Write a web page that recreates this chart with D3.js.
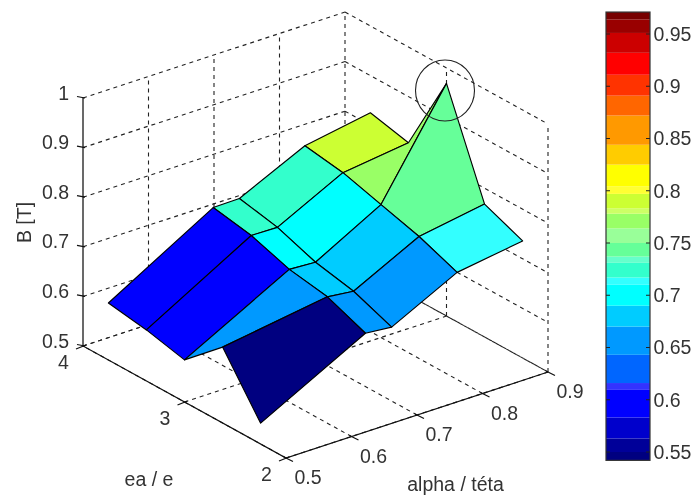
<!DOCTYPE html>
<html><head><meta charset="utf-8">
<script src="https://cdn.jsdelivr.net/npm/d3@7/dist/d3.min.js"></script>
<style>html,body{margin:0;padding:0;background:#fff}svg{display:block;filter:blur(.45px)}text{font-family:"Liberation Sans",Arial,sans-serif;fill:#333}</style>
</head><body><svg id="c" width="694" height="495"></svg>
<script>
// Data
const alphaValues=[0.5,0.66,0.7,0.8,0.9];
const eaValues=[3.75,3.375,3,2.625,2.25];
const rowEa375=[0.615,0.738,0.739,0.802,0.825];
const rowEa3375=[0.603,0.724,0.723,0.790,0.807];
const rowEa3=[0.585,0.698,0.695,0.768,0.969];
const rowEa2625=[0.653,0.685,0.679,0.746,0.768];
const rowEa225=[0.542,0.654,0.649,0.716,0.736];
const zRows=[rowEa375,rowEa3375,rowEa3,rowEa2625,rowEa225];
const alphaTicks=[0.5,0.6,0.7,0.8,0.9];
const eaTicks=[2,3,4];
const zTicks=[0.5,0.6,0.7,0.8,0.9,1];
const barTicks=[0.55,0.6,0.65,0.7,0.75,0.8,0.85,0.9,0.95];
const bandEdges=[0.542,0.55,0.563,0.583,0.61,0.616,0.643,0.67,0.69,0.71,0.717,0.731,0.737,0.75,0.764,0.778,0.783,0.797,0.804,0.825,0.844,0.872,0.891,0.911,0.932,0.951,0.964,0.971];
const bandColors=["#000080","#000099","#0000cc","#0000ff","#3333ff","#0066ff","#0099ff","#00ccff","#00ffff","#33ffff","#33ffcc","#66ffcc","#66ff99","#99ff99","#99ff66","#ccff66","#ccff33","#ffff33","#ffff00","#ffcc00","#ff9900","#ff6600","#ff3300","#ff0000","#cc0000","#990000","#770000"];
const zLabel="B [T]",eaLabel="ea / e",alphaLabel="alpha / téta";

const svg=d3.select("#c");
const originX=286,originY=458;
const aX=d3.scaleLinear().domain([0.5,0.9]).range([0,262]);
const aY=d3.scaleLinear().domain([0.5,0.9]).range([0,-86]);
const eX=d3.scaleLinear().domain([2,4]).range([0,-203]);
const eY=d3.scaleLinear().domain([2,4]).range([0,-112]);
const zY=d3.scaleLinear().domain([0.5,1]).range([0,-248]);
const P=(a,e,z)=>[originX+aX(a)+eX(e),originY+aY(a)+eY(e)+zY(z)];
const line=d3.line();
const color=d3.scaleThreshold().domain(bandEdges.slice(1,-1)).range(bandColors);

// grid
const grid=svg.append("g").attr("fill","none").attr("stroke","#222").attr("stroke-width",1.1).attr("stroke-dasharray","4 4");
const seg=(p,q)=>grid.append("path").attr("d",line([p,q]));
zTicks.forEach(z=>{seg(P(.5,4,z),P(.9,4,z));seg(P(.9,4,z),P(.9,2,z));});
alphaTicks.forEach(a=>{seg(P(a,2,.5),P(a,4,.5));if(a>.5)seg(P(a,4,.5),P(a,4,1));});
eaTicks.forEach(e=>{seg(P(.5,e,.5),P(.9,e,.5));if(e<4)seg(P(.9,e,.5),P(.9,e,1));});

// axis lines
const axes=svg.append("g").attr("fill","none").attr("stroke","#111").attr("stroke-width",1.25);
axes.append("path").attr("d",line([P(.5,4,1),P(.5,4,.5),P(.5,2,.5),P(.9,2,.5)]));
zTicks.forEach(z=>{const p=P(.5,4,z);axes.append("path").attr("d",line([[p[0]-6,p[1]-1.5],[p[0]+2,p[1]]]));});
alphaTicks.forEach(a=>{const p=P(a,2,.5);axes.append("path").attr("d",line([[p[0]-2,p[1]-1],[p[0]+7,p[1]+3.5]]));});
eaTicks.forEach(e=>{const p=P(.5,e,.5);axes.append("path").attr("d",line([[p[0]-7,p[1]+3],[p[0]+3,p[1]-1]]));});

// surface faces, far ones first
const faces=[];
for(let i=0;i<eaValues.length-1;i++)for(let j=0;j<alphaValues.length-1;j++){
  const corners=[[i,j],[i,j+1],[i+1,j+1],[i+1,j]];
  const pts=corners.map(([r,c])=>P(alphaValues[c],eaValues[r],zRows[r][c]));
  const depth=d3.mean(corners,([r,c])=>originY+aY(alphaValues[c])+eY(eaValues[r]));
  faces.push({pts,depth,v:zRows[i+1][j]});
}
faces.sort((a,b)=>a.depth-b.depth);
svg.append("g").selectAll("path").data(faces).join("path")
  .attr("d",d=>line(d.pts)+"Z").attr("fill",d=>color(d.v)).attr("stroke","#000").attr("stroke-width",1.15).attr("stroke-linejoin","round");

// annotation circle
svg.append("ellipse").attr("cx",445).attr("cy",90.5).attr("rx",29.5).attr("ry",30.5).attr("fill","none").attr("stroke","#222").attr("stroke-width",1.1);

// tick labels
const fs=19.5;
const lab=svg.append("g").attr("font-size",fs);
zTicks.forEach(z=>{const p=P(.5,4,z);lab.append("text").attr("x",p[0]-14).attr("y",p[1]-5.5).attr("dy",".36em").attr("text-anchor","end").text(z);});
eaTicks.forEach(e=>{const p=P(.5,e,.5);lab.append("text").attr("x",p[0]-19.5).attr("y",p[1]+16).attr("dy",".36em").attr("text-anchor","middle").text(e);});
alphaTicks.forEach(a=>{const p=P(a,2,.5);lab.append("text").attr("x",p[0]+22).attr("y",p[1]+19).attr("dy",".36em").attr("text-anchor","middle").text(a);});
lab.append("text").attr("x",149).attr("y",479).attr("dy",".36em").attr("text-anchor","middle").text(eaLabel);
lab.append("text").attr("x",455.5).attr("y",484).attr("dy",".36em").attr("text-anchor","middle").text(alphaLabel);
lab.append("text").attr("transform","translate(24,222.5) rotate(-90)").attr("dy",".36em").attr("text-anchor","middle").text(zLabel);

// colour bar
const barY=d3.scaleLinear().domain([0.55,0.95]).range([452,34]);
const barLeft=606,barRight=650;
const bar=svg.append("g");
bar.selectAll("rect").data(bandColors).join("rect")
  .attr("x",barLeft).attr("width",barRight-barLeft)
  .attr("y",(d,i)=>barY(bandEdges[i+1])).attr("height",(d,i)=>barY(bandEdges[i])-barY(bandEdges[i+1]))
  .attr("fill",d=>d);
bar.append("rect").attr("x",barLeft).attr("width",barRight-barLeft).attr("y",barY(bandEdges[bandEdges.length-1])).attr("height",barY(bandEdges[0])-barY(bandEdges[bandEdges.length-1])).attr("fill","none").attr("stroke","#333").attr("stroke-width",1.2);
const ax=d3.axisRight(barY).tickValues(barTicks).tickFormat(d3.format("~g")).tickSize(0).tickPadding(3.5);
const axG=bar.append("g").attr("transform",`translate(${barRight},0)`).call(ax);
axG.select(".domain").remove();
axG.selectAll("text").attr("font-size",fs).attr("font-family",'"Liberation Sans",Arial,sans-serif').attr("fill","#333");
barTicks.forEach(t=>{const y=barY(t);bar.append("path").attr("d",`M${barLeft},${y}h4M${barRight},${y}h-4`).attr("stroke","#222").attr("stroke-width",1.2);});
</script></body></html>
